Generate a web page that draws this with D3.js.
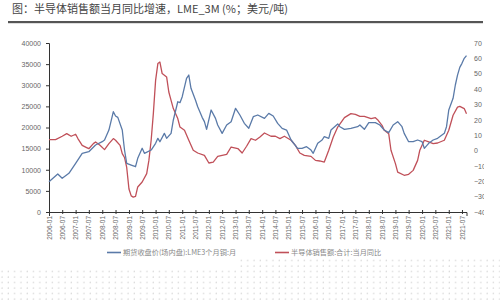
<!DOCTYPE html>
<html>
<head>
<meta charset="utf-8">
<script src="https://cdn.jsdelivr.net/npm/d3@7"></script>
<style>
  body { margin: 0; background: #fff; }
  svg { display: block; font-family: "Noto Sans CJK SC", "Noto Sans", sans-serif; }
</style>
</head>
<body>
<svg width="500" height="300"></svg>
<script>
// LME 3个月铜 (左轴)
const copper = [
  ["2006-01", 7170], ["2006-05", 9000], ["2006-07", 7970], ["2006-10", 9150],
  ["2007-01", 11500], ["2007-04", 13900], ["2007-07", 14270], ["2007-10", 15860],
  ["2008-01", 16640], ["2008-02", 17040], ["2008-04", 19400], ["2008-06", 23740],
  ["2008-07", 22720], ["2008-08", 22400], ["2008-10", 19400], ["2008-11", 14670],
  ["2008-12", 11520], ["2009-02", 11120], ["2009-04", 10720], ["2009-05", 12700],
  ["2009-07", 15080], ["2009-08", 13890], ["2009-11", 14670], ["2010-01", 16250],
  ["2010-02", 17440], ["2010-03", 16640], ["2010-05", 18620], ["2010-06", 17440],
  ["2010-08", 18620], ["2010-09", 21780], ["2010-11", 26100], ["2010-12", 25870],
  ["2011-01", 27300], ["2011-03", 31640], ["2011-04", 32420], ["2011-05", 29270],
  ["2011-07", 26510], ["2011-08", 24920], ["2011-10", 22400], ["2011-11", 21380],
  ["2011-12", 19570], ["2012-02", 24140], ["2012-04", 22170], ["2012-05", 20590],
  ["2012-07", 18620], ["2012-09", 20590], ["2012-11", 21380], ["2013-01", 24540],
  ["2013-03", 22960], ["2013-05", 20990], ["2013-07", 19810], ["2013-09", 22560],
  ["2013-11", 22960], ["2014-02", 22170], ["2014-04", 23350], ["2014-06", 22720],
  ["2014-08", 20990], ["2014-10", 19800], ["2014-12", 19400], ["2015-02", 17040],
  ["2015-05", 15070], ["2015-07", 15070], ["2015-09", 15460], ["2015-11", 14670],
  ["2015-12", 13890], ["2016-02", 16250], ["2016-04", 17040], ["2016-05", 17820],
  ["2016-07", 17440], ["2016-08", 19400], ["2016-11", 20830], ["2016-12", 20190],
  ["2017-02", 19570], ["2017-05", 19810], ["2017-08", 20190], ["2017-09", 20590],
  ["2017-11", 19570], ["2018-01", 21140], ["2018-04", 21140], ["2018-06", 20590],
  ["2018-08", 19400], ["2018-10", 18780], ["2018-12", 20590], ["2019-02", 21380],
  ["2019-04", 20190], ["2019-05", 18620], ["2019-07", 16640], ["2019-09", 16640],
  ["2019-11", 17040], ["2020-01", 16640], ["2020-02", 15070], ["2020-04", 16250],
  ["2020-06", 17040], ["2020-08", 17440], ["2020-11", 18620], ["2020-12", 20190],
  ["2021-01", 24140], ["2021-03", 26900], ["2021-04", 30060], ["2021-05", 32400],
  ["2021-06", 34240], ["2021-07", 35190], ["2021-08", 36370], ["2021-09", 37000]
];

// 半导体销售额当月同比 (右轴, %)
const chips = [
  ["2006-01", 7.1], ["2006-04", 7.1], ["2006-07", 9.3], ["2006-09", 11.0],
  ["2006-11", 9.3], ["2007-01", 10.6], ["2007-02", 7.8], ["2007-04", 3.4],
  ["2007-06", 1.9], ["2007-07", 1.2], ["2007-09", 4.5], ["2007-10", 5.6],
  ["2007-12", 3.4], ["2008-02", 0.6], ["2008-04", 4.5], ["2008-06", 7.8],
  ["2008-07", 6.7], ["2008-09", 3.4], ["2008-10", -2.0], ["2008-11", -4.5],
  ["2008-12", -11], ["2009-01", -25], ["2009-02", -29.5], ["2009-03", -30.3],
  ["2009-04", -29.8], ["2009-05", -23.7], ["2009-07", -20.5], ["2009-09", -15],
  ["2009-10", -6.4], ["2009-11", 6.7], ["2009-12", 24], ["2010-01", 45.7],
  ["2010-02", 56.6], ["2010-03", 57.6], ["2010-04", 50.1], ["2010-06", 47.9],
  ["2010-07", 38.1], ["2010-08", 32.7], ["2010-09", 27.3], ["2010-11", 20.8],
  ["2010-12", 15.3], ["2011-02", 13.2], ["2011-04", 6.7], ["2011-06", 0.2],
  ["2011-08", -1.6], ["2011-11", -3.1], ["2012-01", -8.1], ["2012-03", -7.5],
  ["2012-05", -3.8], ["2012-07", -3.1], ["2012-09", -2.5], ["2012-11", 2.3],
  ["2013-02", 1.3], ["2013-04", -1.6], ["2013-06", 2.8], ["2013-08", 7.8],
  ["2013-10", 6.7], ["2013-12", 8.8], ["2014-02", 11.4], ["2014-05", 9.3],
  ["2014-07", 9.3], ["2014-09", 7.8], ["2014-11", 9.3], ["2015-02", 6.7],
  ["2015-04", 3.4], ["2015-06", -1.6], ["2015-08", -3.1], ["2015-11", -3.8],
  ["2016-01", -6.4], ["2016-03", -6.8], ["2016-05", -7.5], ["2016-07", 0.2],
  ["2016-09", 8.8], ["2016-11", 15.3], ["2017-02", 21.4], ["2017-05", 24],
  ["2017-07", 23.6], ["2017-09", 22.3], ["2017-11", 22.3], ["2018-02", 20.8],
  ["2018-04", 21.4], ["2018-05", 20.1], ["2018-07", 16.4], ["2018-08", 13.2],
  ["2018-10", 11], ["2018-11", 0.2], ["2019-01", -8.5], ["2019-02", -14],
  ["2019-05", -16.1], ["2019-07", -15.5], ["2019-09", -12.9], ["2019-11", -6.4],
  ["2019-12", 0.2], ["2020-02", 6.7], ["2020-04", 5.6], ["2020-06", 4.5],
  ["2020-08", 4.9], ["2020-11", 6.7], ["2021-01", 13.2], ["2021-03", 23],
  ["2021-05", 28.3], ["2021-06", 28.8], ["2021-08", 27.3], ["2021-09", 24]
];

const leftTicks = [0, 5000, 10000, 15000, 20000, 25000, 30000, 35000, 40000];
const rightTicks = [-40, -30, -20, -10, 0, 10, 20, 30, 40, 50, 60, 70];
const titleText = "图：半导体销售额当月同比增速，LME_3M (%；美元/吨)";
const legendLabels = ["期货收盘价(场内盘):LME3个月铜:月", "半导体销售额:合计:当月同比"];

const blue = "#5a7aa8";
const red = "#c05059";

const svg = d3.select("svg");
const parse = d3.timeParse("%Y-%m");

const x = d3.scaleTime()
  .domain([parse("2006-01"), parse("2021-09")])
  .range([49, 466.5]);
const yL = d3.scaleLinear().domain([0, 40000]).range([212, 43]);
const yR = d3.scaleLinear().domain([-40, 70]).range([212, 43]);

// 标题
svg.append("text")
  .attr("x", 12).attr("y", 12.5)
  .attr("font-size", 11).attr("fill", "#444")
  .text(titleText);
svg.append("rect")
  .attr("x", 8).attr("y", 21).attr("width", 475).attr("height", 2.2)
  .attr("fill", "#555");

// 左轴
const gL = svg.append("g")
  .attr("transform", "translate(49,0)")
  .call(d3.axisLeft(yL).tickValues(leftTicks).tickFormat(d3.format("d")).tickSize(3).tickPadding(5));
gL.selectAll("text").attr("font-size", 7).attr("fill", "#666");
gL.select(".domain").attr("stroke", "#333");
gL.selectAll(".tick line").attr("stroke", "#333");

// 右轴 (截断在图片边缘)
svg.append("clipPath").attr("id", "cut")
  .append("rect").attr("x", 0).attr("y", 0).attr("width", 484).attr("height", 300);
const gR = svg.append("g")
  .attr("clip-path", "url(#cut)")
  .append("g")
  .attr("transform", "translate(472,0)")
  .call(d3.axisRight(yR).tickValues(rightTicks).tickSize(0).tickPadding(2));
gR.select(".domain").remove();
gR.selectAll("text").attr("font-size", 7).attr("fill", "#666");

// 横轴
const xTicks = d3.timeMonth.every(6).range(parse("2006-01"), parse("2021-08"));
const gX = svg.append("g")
  .attr("transform", "translate(0,212)")
  .call(d3.axisBottom(x).tickValues(xTicks).tickFormat(d3.timeFormat("%Y-%m")).tickSize(4).tickPadding(3));
gX.select(".domain").attr("stroke", "#333");
gX.selectAll(".tick line").attr("stroke", "#333").attr("transform", "translate(0,-2)");
gX.selectAll("text")
  .attr("font-size", 6.5).attr("fill", "#666")
  .attr("transform", "rotate(-90)")
  .attr("text-anchor", "end")
  .attr("x", -4).attr("y", 0).attr("dy", "0.32em");

// 折线
const lineL = d3.line().x(d => x(parse(d[0]))).y(d => yL(d[1]));
const lineR = d3.line().x(d => x(parse(d[0]))).y(d => yR(d[1]));

svg.append("path").datum(chips)
  .attr("d", lineR).attr("fill", "none")
  .attr("stroke", red).attr("stroke-width", 1.3).attr("stroke-linejoin", "round");
svg.append("path").datum(copper)
  .attr("d", lineL).attr("fill", "none")
  .attr("stroke", blue).attr("stroke-width", 1.3).attr("stroke-linejoin", "round");

// 图例
const legend = [
  { x: 107, color: blue, label: legendLabels[0] },
  { x: 275, color: red, label: legendLabels[1] }
];
legend.forEach(l => {
  svg.append("line")
    .attr("x1", l.x).attr("x2", l.x + 14).attr("y1", 252.5).attr("y2", 252.5)
    .attr("stroke", l.color).attr("stroke-width", 1.6);
  svg.append("text")
    .attr("x", l.x + 16).attr("y", 255)
    .attr("font-size", 7.2).attr("fill", "#888")
    .text(l.label);
});

// 底部点状纹理
const pat = svg.append("defs").append("pattern")
  .attr("id", "dots").attr("patternUnits", "userSpaceOnUse")
  .attr("width", 6.3).attr("height", 5.5);
pat.append("circle").attr("cx", 2).attr("cy", 2).attr("r", 0.6).attr("fill", "#bbb");
svg.append("rect").attr("x", 0).attr("y", 267).attr("width", 500).attr("height", 33)
  .attr("fill", "url(#dots)");
svg.append("rect").attr("x", 240).attr("y", 257).attr("width", 260).attr("height", 10)
  .attr("fill", "url(#dots)");
</script>
</body>
</html>
